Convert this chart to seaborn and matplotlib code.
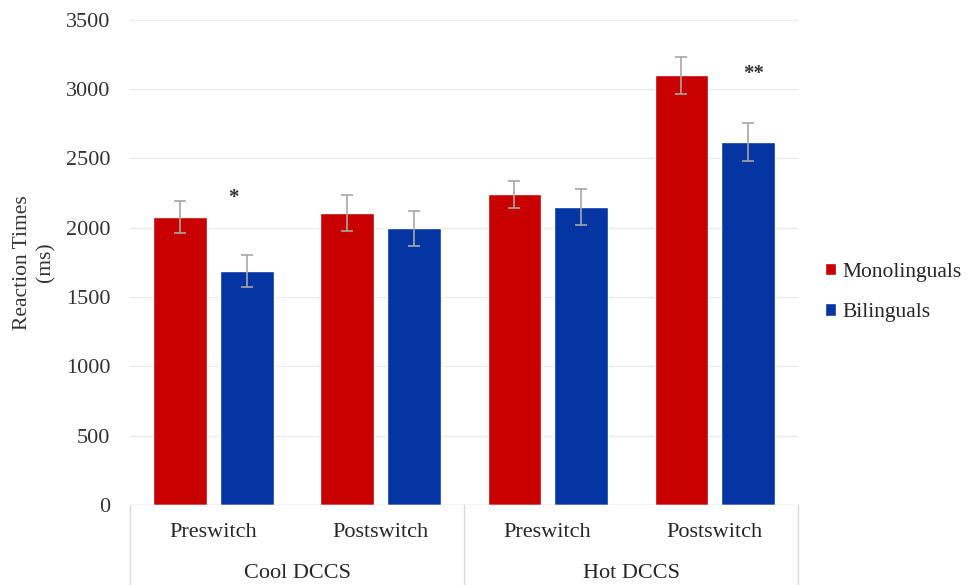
"""
Reaction times by DCCS condition and language group, bar chart with SE bars.
"""

import pandas as pd
import seaborn as sns
from matplotlib import pyplot as plt
from matplotlib.transforms import blended_transform_factory

# Values
CONDITIONS = ["Cool Pre", "Cool Post", "Hot Pre", "Hot Post"]
TICK_LABELS = ["Preswitch", "Postswitch", "Preswitch", "Postswitch"]
GROUP_LABELS = ["Cool DCCS", "Hot DCCS"]
GROUPS = ["Monolinguals", "Bilinguals"]
MONO_RT = [2080, 2105, 2240, 3100]
BILI_RT = [1690, 1995, 2150, 2620]
MONO_ERR = [115, 130, 95, 135]
BILI_ERR = [115, 125, 130, 135]

# Significance markers: (condition index, offset, rt, label)
SIG_MARKS = [(0, 0.12, 2215, "*"), (3, 0.23, 3110, "**")]

COLORS = {"Monolinguals": "#C80000", "Bilinguals": "#0535A3"}

df = pd.DataFrame(
    {
        "condition": CONDITIONS * 2,
        "group": [GROUPS[0]] * 4 + [GROUPS[1]] * 4,
        "rt": MONO_RT + BILI_RT,
    }
)
errs = {GROUPS[0]: MONO_ERR, GROUPS[1]: BILI_ERR}

sns.set_theme(style="whitegrid")
plt.rcParams["font.family"] = ["Liberation Serif", "DejaVu Serif"]

fig = plt.figure(figsize=(9.7, 5.85), dpi=100)
ax = fig.add_axes([0.134, 0.137, 0.689, 0.829])

sns.barplot(
    data=df,
    x="condition",
    y="rt",
    hue="group",
    order=CONDITIONS,
    hue_order=GROUPS,
    palette=COLORS,
    errorbar=None,
    gap=0.2,
    saturation=1,
    ax=ax,
)

# Error bars on top of each bar
for cont, grp in zip(ax.containers, GROUPS):
    xs = [b.get_x() + b.get_width() / 2 for b in cont]
    ys = [b.get_height() for b in cont]
    ax.errorbar(xs, ys, yerr=errs[grp], fmt="none", ecolor="#A6A6A6",
                elinewidth=1.2, capsize=4, capthick=1.2, zorder=3)

for idx, off, rt, lab in SIG_MARKS:
    ax.text(idx + off, rt, lab, ha="center", va="center", fontsize=15,
            fontweight="bold", color="#333333")

ax.set_ylim(0, 3500)
ax.set_xlim(-0.5, 3.5)
ax.set_yticks(range(0, 3501, 500))
ax.grid(axis="y", color="#EBEBEB", linewidth=1)
ax.grid(axis="x", visible=False)
ax.set_facecolor("white")
for s in ax.spines.values():
    s.set_visible(False)
ax.axhline(0, color="#D9D9D9", linewidth=1, zorder=2)

ax.set_xticks(range(4))
ax.set_xticklabels(TICK_LABELS, fontsize=16, color="#262626")
ax.tick_params(axis="x", length=0, pad=13)
ax.tick_params(axis="y", length=0, pad=14, labelsize=16, labelcolor="#333333")
ax.set_xlabel("")
ax.set_ylabel("Reaction Times\n(ms)", fontsize=15.5, color="#333333",
              linespacing=1.25)
ax.yaxis.set_label_coords(-0.112, 0.5)

# Category group labels and separators below the axis
trans = blended_transform_factory(ax.transData, ax.transAxes)
for xsep in [-0.5, 1.5, 3.5]:
    ax.plot([xsep, xsep], [0, -0.17], transform=trans, color="#D9D9D9",
            linewidth=1, clip_on=False)
for i, lab in enumerate(GROUP_LABELS):
    ax.text(0.5 + 2 * i, -0.142, lab, transform=trans, ha="center",
            va="center", fontsize=16, color="#262626")

handles, labels = ax.get_legend_handles_labels()
ax.legend(handles, labels, loc="center left", bbox_to_anchor=(0.851, 0.5),
          bbox_transform=fig.transFigure, frameon=False, fontsize=15.5,
          handlelength=0.5, handleheight=0.5, handletextpad=0.3,
          labelspacing=1.0, borderaxespad=0, borderpad=0)

fig.savefig("out.png", dpi=100, facecolor="white")
